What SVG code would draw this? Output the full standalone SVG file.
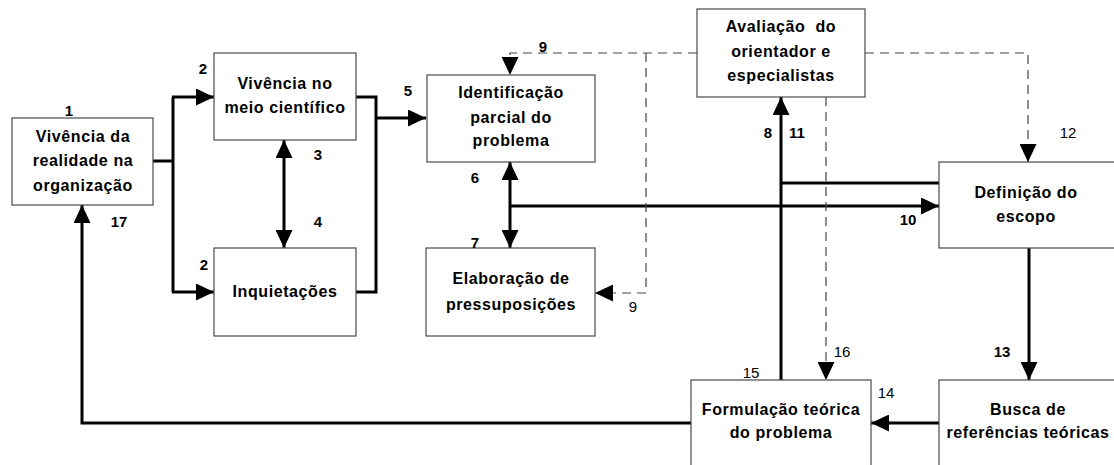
<svg xmlns="http://www.w3.org/2000/svg" width="1114" height="465" viewBox="0 0 1114 465">
<style>
.box{fill:#fff;stroke:#4a4a4a;stroke-width:1.2}
.t{font-family:"Liberation Sans",Arial,sans-serif;font-size:16px;font-weight:bold;text-anchor:middle;letter-spacing:0.6px;fill:#000}
.n{font-family:"Liberation Sans",Arial,sans-serif;font-size:15px;font-weight:bold;text-anchor:middle;fill:#000}
.r{font-family:"Liberation Sans",Arial,sans-serif;font-size:15px;text-anchor:middle;fill:#000}
.c{fill:none;stroke:#000;stroke-width:3}
.d{fill:none;stroke:#444;stroke-width:1.2;stroke-dasharray:9 6}
</style>
<defs>
<marker id="a" markerUnits="userSpaceOnUse" markerWidth="18" markerHeight="17" refX="18" refY="8.5" orient="auto-start-reverse" viewBox="0 0 18 17">
<path d="M0,0 L18,8.5 L0,17 z" fill="#000"/>
</marker>
</defs>
<g id="connectors">
<polyline class="c" points="153,161 173,161"/>
<polyline class="c" points="173,97 173,292"/>
<line class="c" x1="172" y1="97" x2="214" y2="97" marker-end="url(#a)"/>
<line class="c" x1="172" y1="292" x2="214" y2="292" marker-end="url(#a)"/>
<polyline class="c" points="356,97 376,97 376,292 356,292"/>
<line class="c" x1="376" y1="118" x2="426" y2="118" marker-end="url(#a)"/>
<line class="c" x1="284" y1="140" x2="284" y2="248" marker-start="url(#a)" marker-end="url(#a)"/>
<line class="c" x1="510" y1="162" x2="510" y2="248" marker-start="url(#a)" marker-end="url(#a)"/>
<line class="c" x1="510" y1="206" x2="939" y2="206" marker-end="url(#a)"/>
<line class="c" x1="781" y1="380" x2="781" y2="97" marker-end="url(#a)"/>
<line class="c" x1="781" y1="183" x2="939" y2="183"/>
<line class="c" x1="1029" y1="248" x2="1029" y2="380" marker-end="url(#a)"/>
<line class="c" x1="939" y1="423" x2="871" y2="423" marker-end="url(#a)"/>
<polyline class="c" points="691,423 82,423 82,205" marker-end="url(#a)"/>
<polyline class="d" points="697,53 510,53 510,75" marker-end="url(#a)"/>
<polyline class="d" points="646,53 646,293 595,293" marker-end="url(#a)"/>
<polyline class="d" points="865,53 1028,53 1028,162" marker-end="url(#a)"/>
<line class="d" x1="826" y1="97" x2="826" y2="380" marker-end="url(#a)"/>
</g>
<g id="n1"><rect class="box" x="12" y="118" width="141" height="87"/>
<text class="t" x="83" y="142">Vivência da</text><text class="t" x="83" y="166">realidade na</text><text class="t" x="83" y="191">organização</text></g>
<g id="n2"><rect class="box" x="214" y="53" width="142" height="87"/>
<text class="t" x="285" y="89">Vivência no</text><text class="t" x="285" y="113">meio científico</text></g>
<g id="n3"><rect class="box" x="214" y="248" width="142" height="88"/>
<text class="t" x="285" y="297">Inquietações</text></g>
<g id="n4"><rect class="box" x="427" y="75" width="168" height="87"/>
<text class="t" x="511" y="98">Identificação</text><text class="t" x="511" y="123">parcial do</text><text class="t" x="511" y="146">problema</text></g>
<g id="n5"><rect class="box" x="426" y="248" width="169" height="88"/>
<text class="t" x="511" y="284">Elaboração de</text><text class="t" x="511" y="310">pressuposições</text></g>
<g id="n6"><rect class="box" x="697" y="9" width="168" height="88"/>
<text class="t" x="781" y="32" xml:space="preserve">Avaliação  do</text><text class="t" x="781" y="57">orientador e</text><text class="t" x="781" y="81">especialistas</text></g>
<g id="n7"><rect class="box" x="939" y="162" width="180" height="86"/>
<text class="t" x="1026" y="198">Definição do</text><text class="t" x="1026" y="222">escopo</text></g>
<g id="n8"><rect class="box" x="691" y="380" width="180" height="100"/>
<text class="t" x="781" y="415">Formulação teórica</text><text class="t" x="781" y="438">do problema</text></g>
<g id="n9"><rect class="box" x="939" y="380" width="180" height="100"/>
<text class="t" x="1028" y="415">Busca de</text><text class="t" x="1028" y="438">referências teóricas</text></g>
<g id="labels">
<text class="n" x="69" y="116">1</text>
<text class="n" x="203" y="74">2</text>
<text class="n" x="204" y="270">2</text>
<text class="n" x="318" y="160">3</text>
<text class="n" x="318" y="227">4</text>
<text class="n" x="119" y="227">17</text>
<text class="n" x="408" y="96">5</text>
<text class="n" x="475" y="183">6</text>
<text class="n" x="475" y="248">7</text>
<text class="n" x="543" y="52">9</text>
<text class="r" x="633" y="312">9</text>
<text class="n" x="768" y="138">8</text>
<text class="n" x="797" y="138">11</text>
<text class="r" x="1068" y="138">12</text>
<text class="n" x="908" y="225">10</text>
<text class="n" x="1002" y="357">13</text>
<text class="r" x="886" y="398">14</text>
<text class="r" x="751" y="378">15</text>
<text class="r" x="842" y="357">16</text>
</g>
</svg>
